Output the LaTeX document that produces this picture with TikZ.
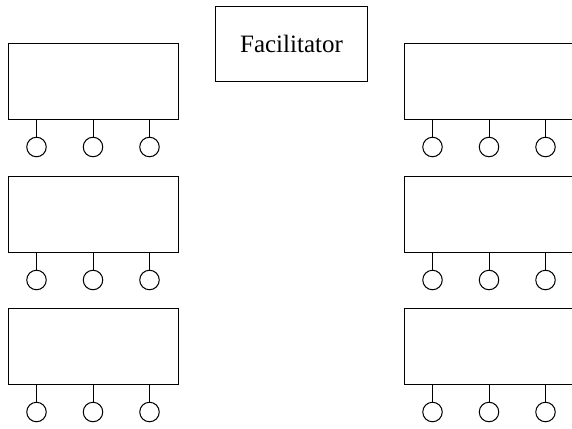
\documentclass[tikz,border=0pt]{standalone}
\usepackage{fontspec}
\setmainfont{Liberation Serif}
\begin{document}
\begin{tikzpicture}[x=1pt,y=-1pt,
  tablebox/.style={draw, line width=1pt, minimum width=170pt, minimum height=76pt, inner sep=0pt, anchor=north west},
  widebox/.style={tablebox, minimum width=190pt},
  seat/.style={draw, circle, line width=1pt, minimum size=19.5pt, inner sep=0pt},
  leg/.style={line width=1pt},
  facbox/.style={draw, line width=1pt, minimum width=152pt, minimum height=75pt, inner sep=0pt, anchor=north west, font=\fontsize{25}{29}\selectfont}]
\useasboundingbox (0,0) rectangle (572,428);
\node[facbox] (fac) at (215,6) {Facilitator};
\foreach \side/\x/\st in {L/8/tablebox, R/404/widebox} {
  \foreach \row/\y in {1/43, 2/176, 3/308} {
    \node[\st] (t\side\row) at (\x,\y) {};
    \foreach \k/\dx in {1/28.5, 2/85, 3/141.5} {
      \node[seat] (s\side\row\k) at (\x+\dx, \y+104) {};
      \draw[leg] (s\side\row\k.north) -- (s\side\row\k.north |- t\side\row.south);
    }
  }
}
\end{tikzpicture}
\end{document}
